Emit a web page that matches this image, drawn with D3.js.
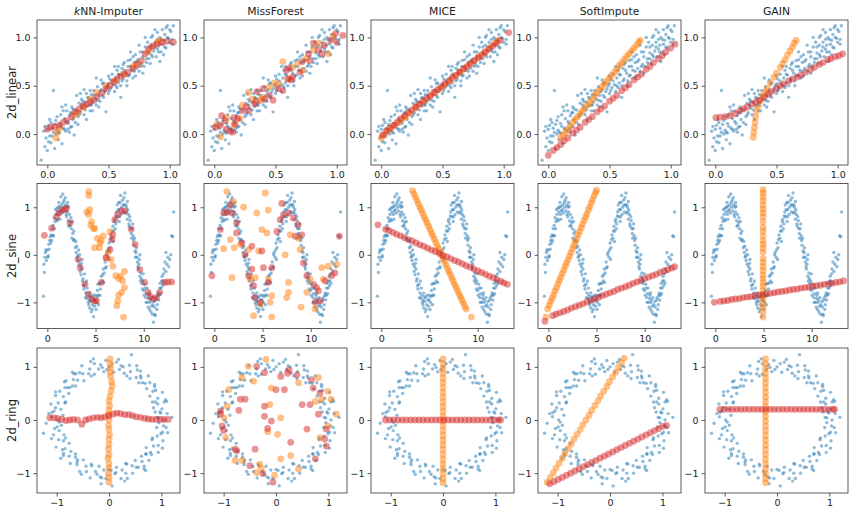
<!DOCTYPE html>
<html>
<head>
<meta charset="utf-8">
<script src="https://cdn.jsdelivr.net/npm/d3@7"></script>
<style>
body { margin: 0; background: #fff; }
text { font-family: "DejaVu Sans", sans-serif; fill: #222; }
</style>
</head>
<body>
<svg id="canvas" width="855" height="513"></svg>
<script>
const methods = ['kNN-Imputer', 'MissForest', 'MICE', 'SoftImpute', 'GAIN'];
const datasets = ['2d_linear', '2d_sine', '2d_ring'];

// ground truth points (blue), same in every column of a row
const linearTrue = [[-0.05,-0.27],[-0.03,0.03],[-0.02,-0.13],[0.0,0.05],[-0.01,-0.04],[0.01,0.09],[0.02,-0.02],[0.03,-0.09],[0.03,0.12],[0.05,0.02],[0.05,0.45],[0.06,-0.15],[0.07,0.14],[0.08,0.04],[0.09,-0.06],[0.1,0.11],[0.11,0.2],[0.12,-0.1],[0.13,0.06],[0.14,0.16],[0.15,0.03],[0.16,0.24],[0.17,0.11],[0.18,0.19],[0.19,0.07],[0.2,0.28],[0.21,0.15],[0.22,-0.01],[0.23,0.25],[0.24,0.4],[0.25,0.18],[0.26,0.32],[0.27,0.22],[0.28,0.36],[0.29,0.27],[0.3,0.2],[0.31,0.33],[0.32,0.42],[0.33,0.29],[0.34,0.37],[0.35,0.24],[0.36,0.41],[0.37,0.33],[0.38,0.45],[0.39,0.36],[0.4,0.3],[0.41,0.49],[0.42,0.4],[0.43,0.34],[0.44,0.46],[0.45,0.4],[0.46,0.53],[0.47,0.44],[0.48,0.23],[0.49,0.5],[0.5,0.42],[0.51,0.57],[0.52,0.48],[0.53,0.62],[0.54,0.51],[0.55,0.44],[0.56,0.58],[0.57,0.66],[0.58,0.53],[0.59,0.61],[0.6,0.5],[0.61,0.68],[0.62,0.57],[0.63,0.74],[0.64,0.63],[0.65,0.55],[0.66,0.7],[0.67,0.61],[0.68,0.77],[0.69,0.66],[0.7,0.58],[0.71,0.74],[0.72,0.82],[0.73,0.68],[0.74,0.77],[0.75,0.65],[0.76,0.85],[0.77,0.72],[0.78,0.8],[0.79,0.7],[0.8,0.9],[0.81,0.78],[0.82,0.95],[0.83,0.84],[0.84,0.73],[0.85,0.92],[0.86,1.02],[0.87,0.86],[0.88,0.95],[0.89,0.8],[0.9,1.05],[0.91,0.92],[0.92,1.0],[0.93,0.85],[0.94,1.08],[0.95,0.97],[0.96,1.03],[0.97,0.89],[0.98,1.12],[0.99,0.99],[1.0,0.95],[1.01,1.06],[1.02,0.93],[1.03,1.12],[0.97,1.1],[0.85,0.82],[0.75,0.92],[0.6,0.38],[0.4,0.58],[0.3,0.46],[0.15,0.3],[0.08,0.18],[0.02,0.15],[0.65,0.5],[0.55,0.7],[0.5,0.6],[0.45,0.52],[0.35,0.45],[0.25,0.1],[0.1,0.01],[0.9,0.88],[0.95,0.82],[0.8,1.0],[0.7,0.8],[0.58,0.7],[0.42,0.28],[0.32,0.15],[0.18,0.02],[0.04,-0.02],[0.88,1.08],[0.92,0.75],[0.78,0.63],[0.68,0.85],[0.2,0.08],[0.12,0.28],[0.27,0.42],[0.37,0.24],
  [0.01,-0.08],[0.04,0.06],[0.06,0.1],[0.09,0.02],[0.11,0.08],[0.14,0.05],[0.16,0.13],[0.19,0.22],[0.21,0.26],[0.23,0.12],[0.26,0.2],[0.28,0.3],[0.31,0.25],[0.33,0.38],[0.36,0.3],[0.38,0.4],[0.41,0.35],[0.43,0.44],[0.46,0.38],[0.48,0.47],[0.51,0.45],[0.53,0.55],[0.56,0.5],[0.58,0.62],[0.61,0.55],[0.63,0.66],[0.66,0.6],[0.68,0.7],[0.71,0.65],[0.73,0.75],[0.76,0.7],[0.78,0.85],[0.81,0.74],[0.83,0.9],[0.86,0.8],[0.88,0.9],[0.91,0.85],[0.93,0.98],[0.96,0.9],[0.98,1.0],[1.0,1.08],[1.02,0.98],[0.85,1.0],[0.9,0.98],[0.72,0.6],[0.62,0.72],[0.5,0.52],[0.35,0.3],[0.2,0.22],[0.07,0.0],[-0.02,0.08],[0.0,-0.17],[0.13,0.24],[0.44,0.56],[0.66,0.76],[0.94,0.93],[0.83,0.78],[0.57,0.48],[0.29,0.34],[0.17,0.05]];

const sineTrue = [[-0.4,-0.87],[-0.3,-0.37],[-0.25,-0.05],[-0.2,0.05],[-0.1,-0.12],[0.0,0.1],[0.1,-0.02],[0.15,0.22],[0.2,0.12],[0.3,0.38],[0.4,0.42],[0.45,0.3],[0.5,0.55],[0.6,0.62],[0.65,0.4],[0.7,0.78],[0.8,0.7],[0.85,0.95],[0.9,0.85],[1.0,0.98],[1.05,0.72],[1.1,0.9],[1.2,1.1],[1.25,0.85],[1.3,1.02],[1.4,1.22],[1.45,0.95],[1.5,1.05],[1.55,0.88],[1.6,1.28],[1.7,1.0],[1.75,1.15],[1.8,0.92],[1.9,1.05],[2.0,0.8],[2.05,1.0],[2.1,0.9],[2.2,0.72],[2.3,0.85],[2.35,0.62],[2.4,0.68],[2.5,0.55],[2.55,0.35],[2.6,0.7],[2.7,0.3],[2.8,0.32],[2.9,0.15],[3.0,0.05],[3.05,0.18],[3.1,-0.05],[3.2,-0.12],[3.3,-0.2],[3.35,0.0],[3.4,-0.35],[3.5,-0.42],[3.6,-0.3],[3.65,-0.55],[3.7,-0.5],[3.8,-0.72],[3.9,-0.62],[4.0,-0.8],[4.05,-0.55],[4.1,-0.92],[4.2,-0.85],[4.3,-1.05],[4.35,-0.95],[4.4,-1.12],[4.5,-0.98],[4.55,-1.2],[4.6,-0.9],[4.7,-1.05],[4.8,-1.3],[4.85,-0.95],[4.9,-1.08],[5.0,-0.85],[5.1,-1.0],[5.2,-0.75],[5.3,-0.85],[5.4,-0.6],[5.5,-0.72],[5.6,-0.45],[5.7,-0.55],[5.8,-0.3],[5.9,-0.38],[6.0,-0.15],[6.1,-0.25],[6.2,0.05],[6.3,-0.05],[6.4,0.25],[6.5,0.15],[6.6,0.42],[6.7,0.35],[6.8,0.6],[6.9,0.5],[7.0,0.75],[7.1,0.65],[7.2,0.9],[7.25,1.05],[7.3,0.8],[7.4,1.1],[7.5,0.95],[7.6,1.25],[7.7,1.0],[7.8,1.15],[7.9,0.9],[8.0,1.05],[8.05,1.3],[8.1,0.88],[8.2,1.0],[8.3,0.75],[8.4,0.85],[8.5,0.6],[8.6,0.72],[8.7,0.45],[8.8,0.55],[8.9,0.4],[9.0,0.2],[9.1,0.08],[9.2,0.05],[9.3,-0.05],[9.4,-0.25],[9.5,-0.2],[9.6,-0.45],[9.7,-0.38],[9.8,-0.6],[9.9,-0.55],[10.0,-0.75],[10.1,-0.62],[10.2,-0.9],[10.3,-0.82],[10.4,-1.0],[10.5,-0.92],[10.6,-1.15],[10.7,-0.95],[10.8,-1.08],[10.9,-1.25],[11.0,-1.42],[11.05,-0.98],[11.1,-1.1],[11.2,-1.28],[11.3,-0.9],[11.4,-1.05],[11.5,-0.8],[11.6,-0.85],[11.7,-0.6],[11.8,-0.7],[11.9,-0.45],[12.0,-0.55],[12.1,-0.3],[12.2,-0.15],[12.4,-0.2],[12.5,-0.05],[12.6,-0.25],[12.8,0.0],[12.9,0.4],[13.0,0.38],[13.1,0.9],[1.3,0.75],[7.5,0.8],[4.4,-0.8],[10.6,-0.8],[5.3,-1.05],[2.1,1.1],[8.3,1.12],[3.6,-0.1],[9.6,0.0],
  [0.05,-0.05],[0.35,0.25],[0.55,0.4],[0.75,0.55],[0.95,0.75],[1.15,1.0],[1.35,0.92],[1.65,1.1],[1.85,1.2],[1.95,0.85],[2.15,1.02],[2.25,0.6],[2.45,0.78],[2.65,0.45],[2.75,0.5],[2.95,0.28],[3.15,-0.02],[3.25,0.1],[3.45,-0.25],[3.55,-0.18],[3.75,-0.65],[3.85,-0.4],[3.95,-0.9],[4.15,-0.7],[4.25,-1.0],[4.45,-0.88],[4.65,-1.15],[4.75,-0.85],[4.95,-0.95],[5.05,-1.15],[5.15,-0.88],[5.25,-0.62],[5.45,-0.85],[5.55,-0.6],[5.75,-0.42],[5.85,-0.58],[6.05,-0.28],[6.15,0.0],[6.35,0.1],[6.45,-0.1],[6.55,0.32],[6.75,0.5],[6.85,0.28],[6.95,0.7],[7.05,0.55],[7.15,0.82],[7.35,0.95],[7.45,0.7],[7.55,1.1],[7.65,0.85],[7.85,1.05],[7.95,1.2],[8.15,1.05],[8.25,0.9],[8.35,0.95],[8.45,0.65],[8.55,0.8],[8.65,0.55],[8.75,0.35],[8.85,0.65],[8.95,0.3],[9.05,0.35],[9.15,-0.05],[9.25,0.15],[9.35,-0.15],[9.45,-0.3],[9.55,-0.1],[9.65,-0.55],[9.75,-0.5],[9.85,-0.72],[9.95,-0.4],[10.05,-0.85],[10.15,-0.7],[10.25,-1.0],[10.35,-0.7],[10.45,-1.1],[10.55,-0.85],[10.65,-1.0],[10.75,-1.2],[10.85,-0.9],[10.95,-1.05],[11.15,-1.25],[11.25,-0.95],[11.35,-1.15],[11.45,-0.85],[11.55,-0.95],[11.65,-0.7],[11.75,-0.82],[11.85,-0.55],[11.95,-0.65],[12.05,-0.4],[12.3,-0.35],[12.7,-0.1],[12.3,0.05],[-0.35,-0.2],[-0.15,0.1],[0.25,0.3],[12.1,-0.6]];

const ringTrue = [[1.05,0.0],[0.92,0.05],[1.11,0.12],[0.97,0.15],[1.01,0.21],[0.85,0.23],[1.05,0.34],[0.89,0.34],[0.93,0.41],[1.02,0.52],[0.78,0.45],[0.84,0.54],[0.87,0.63],[0.72,0.59],[0.78,0.7],[0.69,0.69],[0.75,0.83],[0.57,0.7],[0.6,0.83],[0.52,0.8],[0.54,0.94],[0.4,0.78],[0.41,0.91],[0.39,1.03],[0.29,0.88],[0.27,1.0],[0.2,0.95],[0.18,1.14],[0.09,0.9],[0.06,1.06],
  [0.0,1.0],[-0.06,1.12],[-0.1,0.91],[-0.16,1.04],[-0.2,0.96],[-0.28,1.06],[-0.28,0.86],[-0.37,0.96],[-0.39,0.87],[-0.52,1.02],[-0.5,0.87],[-0.48,0.74],[-0.63,0.87],[-0.6,0.75],[-0.68,0.76],[-0.64,0.64],[-0.82,0.74],[-0.75,0.61],[-0.84,0.61],[-0.77,0.5],[-0.94,0.54],[-0.87,0.44],[-1.02,0.46],[-0.84,0.32],[-0.97,0.32],[-1.11,0.3],[-0.92,0.2],[-1.05,0.17],[-0.88,0.09],[-1.1,0.06],
  [-0.98,0.0],[-1.2,-0.06],[-0.91,-0.1],[-1.04,-0.16],[-0.95,-0.2],[-1.06,-0.28],[-0.86,-0.28],[-0.96,-0.37],[-0.87,-0.39],[-1.01,-0.51],[-0.76,-0.44],[-0.84,-0.54],[-0.87,-0.63],[-0.73,-0.59],[-0.76,-0.68],[-0.64,-0.64],[-0.74,-0.82],[-0.6,-0.75],[-0.61,-0.84],[-0.49,-0.75],[-0.56,-0.97],[-0.44,-0.87],[-0.43,-0.97],[-0.33,-0.86],[-0.36,-1.09],[-0.26,-0.97],[-0.19,-0.87],[-0.17,-1.07],[-0.1,-0.94],[-0.06,-1.1],
  [0.0,-0.93],[0.06,-1.24],[0.11,-1.01],[0.14,-0.89],[0.23,-1.1],[0.25,-0.94],[0.32,-1.0],[0.32,-0.82],[0.45,-1.0],[0.44,-0.86],[0.52,-0.89],[0.5,-0.76],[0.67,-0.92],[0.63,-0.78],[0.62,-0.68],[0.76,-0.76],[0.71,-0.64],[0.81,-0.65],[0.71,-0.52],[0.94,-0.61],[0.85,-0.49],[0.94,-0.48],[0.82,-0.37],[1.03,-0.39],[0.92,-0.3],[0.99,-0.26],[1.12,-0.24],[0.91,-0.14],[1.04,-0.11],[0.95,-0.05],
  [1.2,0.05],[0.43,1.23],[-1.25,-0.25],[0.88,0.15],[-0.3,1.15],[0.3,-1.15],[-0.7,0.9],[0.7,-0.95],[-0.92,-0.72],[0.6,0.92],[-0.15,-1.2],[0.93,0.3],[-0.85,0.72],[1.08,0.38],[-1.15,0.12],
  [0.99,0.13],[0.83,0.34],[0.87,0.67],[0.61,0.79],[0.34,0.83],[0.14,1.09],[-0.13,0.99],[-0.34,0.83],[-0.67,0.87],[-0.79,0.61],[-0.83,0.34],[-1.09,0.14],[-0.99,-0.13],[-0.83,-0.34],[-0.87,-0.67],[-0.61,-0.79],[-0.34,-0.83],[-0.14,-1.09],[0.13,-0.99],[0.34,-0.83],[0.67,-0.87],[0.79,-0.61],[0.83,-0.34],[1.09,-0.14],
  [0.95,0.04],[1.1,0.35],[0.89,0.56],[0.64,0.7],[0.53,1.02],[0.23,1.02],[-0.04,0.95],[-0.35,1.1],[-0.56,0.89],[-0.7,0.64],[-1.02,0.53],[-1.02,0.23],[-0.95,-0.04],[-1.1,-0.35],[-0.89,-0.56],[-0.64,-0.7],[-0.53,-1.02],[-0.23,-1.02],[0.04,-0.95],[0.35,-1.1],[0.56,-0.89],[0.7,-0.64],[1.02,-0.53],[1.02,-0.23]];

// imputed points: orange = imputed first coordinate, red = imputed second coordinate
const knnLinearOrange = [[0.07,-0.04],[0.08,0.02],[0.1,0.06],[0.22,0.2],[0.25,0.22],[0.3,0.28],[0.35,0.36],[0.4,0.43],[0.48,0.5],[0.55,0.55],[0.62,0.62],[0.7,0.7],[0.75,0.72],[0.82,0.85],[0.86,0.9],[0.9,0.95],[0.92,0.97]];
const knnLinearRed = [[0.0,0.05],[0.03,0.07],[0.06,0.08],[0.1,0.09],[0.13,0.12],[0.16,0.14],[0.2,0.18],[0.23,0.23],[0.26,0.26],[0.29,0.29],[0.32,0.31],[0.35,0.33],[0.38,0.35],[0.41,0.39],[0.45,0.43],[0.48,0.47],[0.51,0.5],[0.54,0.54],[0.57,0.57],[0.6,0.6],[0.63,0.62],[0.66,0.64],[0.7,0.68],[0.73,0.72],[0.77,0.76],[0.8,0.83],[0.83,0.88],[0.86,0.91],[0.9,0.93],[0.94,0.95],[0.98,0.96],[1.03,0.95]];
const mfLinearOrange = [[0.05,-0.03],[0.02,0.1],[0.1,0.17],[0.21,0.16],[0.31,0.36],[0.38,0.35],[0.49,0.53],[0.56,0.75],[0.64,0.69],[0.68,0.73],[0.75,0.78],[0.81,0.87],[0.93,0.83],[0.97,1.01],[0.23,0.3],[0.45,0.49],[0.61,0.57],[0.85,0.94],[0.16,0.1],[0.39,0.38],[0.72,0.66],[0.28,0.43],[0.53,0.52]];
const mfLinearRed = [[0.01,0.07],[0.05,0.09],[0.09,0.14],[0.15,0.02],[0.1,0.05],[0.17,0.1],[0.19,0.16],[0.26,0.28],[0.28,0.24],[0.33,0.31],[0.35,0.44],[0.4,0.47],[0.41,0.36],[0.45,0.4],[0.48,0.35],[0.52,0.47],[0.56,0.45],[0.6,0.57],[0.63,0.56],[0.61,0.68],[0.64,0.59],[0.7,0.64],[0.72,0.75],[0.78,0.76],[0.81,0.94],[0.85,0.87],[0.88,0.83],[0.9,0.92],[0.95,0.97],[0.99,1.04],[1.05,1.02],[1.0,0.95],[0.77,0.83],[0.59,0.66],[0.34,0.34],[0.23,0.24],[0.16,0.17],[0.06,0.19],[0.13,0.03]];
const miceLinearOrange = [[0.0,-0.04],[0.02,-0.01],[0.05,0.03],[0.08,0.06],[0.11,0.09],[0.14,0.12],[0.17,0.15],[0.2,0.18],[0.24,0.22],[0.28,0.27],[0.32,0.31],[0.36,0.35],[0.4,0.39],[0.44,0.43],[0.48,0.47],[0.52,0.51],[0.56,0.55],[0.6,0.6],[0.64,0.64],[0.68,0.68],[0.72,0.72],[0.76,0.76],[0.8,0.8],[0.84,0.84],[0.88,0.89],[0.92,0.93],[0.95,0.97]];
const miceLinearRed = [[0.01,-0.01],[0.04,0.03],[0.07,0.06],[0.1,0.09],[0.13,0.12],[0.16,0.16],[0.19,0.19],[0.22,0.22],[0.25,0.25],[0.28,0.28],[0.31,0.31],[0.34,0.34],[0.37,0.37],[0.4,0.4],[0.43,0.43],[0.46,0.46],[0.49,0.49],[0.52,0.52],[0.55,0.55],[0.58,0.58],[0.61,0.61],[0.64,0.64],[0.67,0.67],[0.7,0.7],[0.73,0.73],[0.76,0.76],[0.79,0.79],[0.82,0.82],[0.85,0.85],[0.88,0.88],[0.91,0.91],[0.94,0.94],[0.97,0.97],[1.04,1.05]];
const siLinearOrange = [[0.1,-0.04],[0.12,-0.01],[0.14,0.02],[0.16,0.05],[0.18,0.08],[0.2,0.12],[0.22,0.15],[0.24,0.18],[0.26,0.21],[0.28,0.24],[0.3,0.27],[0.32,0.3],[0.34,0.33],[0.36,0.36],[0.38,0.4],[0.4,0.43],[0.42,0.46],[0.44,0.49],[0.46,0.52],[0.48,0.55],[0.5,0.58],[0.52,0.61],[0.54,0.64],[0.56,0.67],[0.58,0.71],[0.6,0.74],[0.62,0.77],[0.64,0.8],[0.66,0.83],[0.68,0.86],[0.7,0.89],[0.72,0.92],[0.74,0.95],[0.75,0.97]];
const siLinearRed = [[0.0,-0.22],[0.04,-0.17],[0.07,-0.14],[0.1,-0.11],[0.13,-0.07],[0.16,-0.04],[0.2,0.01],[0.23,0.04],[0.26,0.07],[0.3,0.12],[0.33,0.15],[0.36,0.18],[0.4,0.23],[0.43,0.26],[0.46,0.29],[0.5,0.34],[0.53,0.37],[0.56,0.4],[0.6,0.45],[0.63,0.48],[0.66,0.51],[0.7,0.56],[0.73,0.59],[0.76,0.62],[0.8,0.67],[0.83,0.7],[0.86,0.74],[0.9,0.78],[0.93,0.81],[0.96,0.85],[1.0,0.89],[1.035,0.93]];
const gainLinearOrange = [[0.31,-0.035],[0.315,0.02],[0.32,0.07],[0.325,0.12],[0.33,0.18],[0.337,0.24],[0.35,0.29],[0.37,0.35],[0.39,0.4],[0.41,0.44],[0.425,0.47],[0.45,0.53],[0.48,0.59],[0.5,0.63],[0.53,0.69],[0.55,0.73],[0.57,0.77],[0.59,0.82],[0.61,0.86],[0.63,0.9],[0.645,0.94],[0.66,0.97]];
const gainLinearRed = [[0.005,0.17],[0.04,0.175],[0.08,0.18],[0.12,0.19],[0.16,0.21],[0.2,0.24],[0.23,0.26],[0.26,0.28],[0.3,0.31],[0.33,0.33],[0.36,0.35],[0.4,0.38],[0.43,0.41],[0.46,0.44],[0.5,0.47],[0.53,0.5],[0.56,0.52],[0.6,0.55],[0.63,0.57],[0.67,0.59],[0.7,0.61],[0.74,0.64],[0.78,0.67],[0.81,0.69],[0.85,0.72],[0.88,0.74],[0.92,0.77],[0.945,0.78],[0.98,0.8],[1.01,0.81],[1.04,0.83]];

const knnSineOrange = [[4.3,1.33],[4.3,1.25],[4.1,0.9],[4.3,0.85],[4.6,0.7],[4.8,0.55],[4.9,0.56],[6.5,0.48],[5.45,0.25],[4.9,0.15],[5.4,0.15],[6.1,-0.06],[6.8,-0.24],[7.1,-0.44],[7.6,-0.45],[8.0,-0.35],[8.0,-0.69],[7.7,-0.79],[7.3,-0.97],[7.2,-1.07],[7.9,-1.31],[5.2,0.35],[5.8,0.4],[6.3,0.05],[4.5,0.62],[5.6,0.3],[6.6,-0.1],[7.4,-0.5],[7.8,-0.55],[7.4,-0.85],[4.4,0.95]];
const knnSineRed = [[-0.3,0.41],[0.45,0.56],[0.97,0.8],[1.2,0.88],[1.5,0.94],[1.8,0.95],[2.0,0.98],[2.35,0.67],[3.2,-0.1],[3.4,-0.27],[3.9,-0.62],[4.25,-0.83],[4.6,-0.93],[4.9,-0.97],[5.1,-0.97],[5.6,-0.58],[6.1,-0.06],[6.5,0.11],[6.7,0.32],[6.8,0.42],[7.0,0.74],[7.3,0.85],[7.7,0.93],[8.0,0.92],[8.7,0.54],[9.1,0.22],[9.6,-0.31],[10.1,-0.58],[10.45,-0.79],[10.7,-0.88],[11.0,-0.93],[11.3,-0.9],[11.65,-0.79],[12.2,-0.58],[12.5,-0.57],[12.9,-0.57]];
const mfSineOrange = [[1.3,1.33],[2.0,1.12],[3.03,1.0],[4.4,0.88],[5.28,1.3],[5.6,0.94],[4.93,0.53],[5.45,0.46],[4.6,0.08],[3.55,0.11],[1.66,0.32],[0.97,0.13],[2.07,0.15],[1.83,-0.48],[4.24,-0.48],[5.6,-0.51],[5.96,-0.86],[5.8,-1.0],[5.96,-1.31],[7.7,-0.58],[7.7,-0.79],[7.5,-0.9],[9.0,-1.1],[8.72,0.35],[8.9,0.11],[9.6,-0.79],[10.45,-1.14],[11.14,-0.27],[11.3,-0.51],[11.8,-0.24],[12.7,-0.2],[9.93,-0.51],[4.07,-1.28],[4.76,-1.03],[3.72,-0.51],[7.86,0.42],[2.7,0.22],[7.34,0.0]];
const mfSineRed = [[-0.25,-0.44],[0.62,0.53],[0.97,0.88],[1.3,0.9],[1.66,1.05],[1.83,0.88],[2.3,0.67],[2.3,0.46],[2.86,0.25],[3.2,0.0],[3.9,0.18],[3.9,-0.3],[3.55,-0.44],[4.07,-0.65],[4.2,-0.9],[4.76,-1.0],[5.1,-0.27],[5.6,-0.58],[4.93,0.08],[5.96,-0.27],[6.5,0.49],[6.83,0.74],[7.0,1.08],[7.17,0.84],[7.7,0.88],[8.2,0.77],[8.7,0.63],[9.07,0.42],[8.4,0.39],[9.24,-0.17],[9.6,-0.44],[10.3,-0.62],[10.6,-0.69],[10.8,-0.76],[10.97,-0.97],[10.45,-1.0],[11.5,-0.55],[12.17,-0.44],[12.5,-0.38],[12.97,0.39]];
const miceSineOrange = [[3.24,1.35],[3.4,1.28],[3.55,1.21],[3.7,1.14],[3.85,1.07],[4.0,1.0],[4.15,0.94],[4.3,0.87],[4.45,0.8],[4.6,0.73],[4.75,0.67],[4.9,0.6],[5.05,0.53],[5.2,0.46],[5.35,0.4],[5.5,0.33],[5.65,0.26],[5.8,0.19],[5.95,0.13],[6.1,0.06],[6.25,-0.01],[6.4,-0.08],[6.55,-0.14],[6.7,-0.21],[6.85,-0.28],[7.0,-0.35],[7.15,-0.41],[7.3,-0.48],[7.45,-0.55],[7.6,-0.62],[7.75,-0.68],[7.9,-0.75],[8.05,-0.82],[8.2,-0.88],[8.35,-0.95],[8.5,-1.01],[8.65,-1.08],[8.8,-1.14],[9.34,-1.31]];
const miceSineRed = [[-0.35,0.63],[0.45,0.54],[0.8,0.51],[1.2,0.47],[1.6,0.43],[2.0,0.4],[2.4,0.36],[2.8,0.32],[3.2,0.29],[3.6,0.25],[4.0,0.21],[4.4,0.18],[4.8,0.14],[5.2,0.1],[5.6,0.07],[6.0,0.03],[6.4,-0.01],[6.8,-0.04],[7.2,-0.08],[7.6,-0.12],[8.0,-0.15],[8.4,-0.19],[8.8,-0.23],[9.2,-0.26],[9.6,-0.3],[10.0,-0.34],[10.4,-0.37],[10.8,-0.41],[11.2,-0.45],[11.6,-0.48],[12.0,-0.52],[12.4,-0.56],[12.7,-0.59],[13.07,-0.62]];
const siSineOrange = [[-0.25,-1.31],[-0.07,-1.14],[0.1,-1.06],[0.25,-0.98],[0.4,-0.91],[0.55,-0.84],[0.7,-0.76],[0.85,-0.69],[1.0,-0.61],[1.15,-0.54],[1.3,-0.47],[1.45,-0.39],[1.6,-0.32],[1.75,-0.24],[1.9,-0.17],[2.05,-0.1],[2.2,-0.02],[2.35,0.05],[2.5,0.13],[2.65,0.2],[2.8,0.27],[2.95,0.35],[3.1,0.42],[3.25,0.49],[3.4,0.57],[3.55,0.64],[3.7,0.72],[3.85,0.79],[4.0,0.86],[4.15,0.94],[4.3,1.01],[4.45,1.09],[4.6,1.16],[4.75,1.24],[4.9,1.31],[5.0,1.36]];
const siSineRed = [[-0.35,-1.4],[0.45,-1.28],[0.8,-1.25],[1.2,-1.22],[1.6,-1.19],[2.0,-1.16],[2.4,-1.12],[2.8,-1.09],[3.2,-1.06],[3.6,-1.03],[4.0,-0.99],[4.4,-0.96],[4.8,-0.93],[5.2,-0.9],[5.6,-0.86],[6.0,-0.83],[6.4,-0.8],[6.8,-0.77],[7.2,-0.73],[7.6,-0.7],[8.0,-0.67],[8.4,-0.64],[8.8,-0.6],[9.2,-0.57],[9.6,-0.54],[10.0,-0.5],[10.4,-0.47],[10.8,-0.44],[11.2,-0.41],[11.6,-0.37],[12.0,-0.34],[12.4,-0.31],[12.8,-0.28],[13.1,-0.25]];
const gainSineOrange = [[4.95,-1.31],[4.95,-1.2],[4.95,-1.1],[4.95,-1.02],[4.95,-0.92],[4.95,-0.85],[4.95,-0.75],[4.95,-0.66],[4.95,-0.58],[4.95,-0.5],[4.95,-0.42],[4.95,-0.33],[4.95,-0.25],[4.95,-0.16],[4.95,-0.08],[4.95,0.05],[4.95,0.14],[4.95,0.22],[4.95,0.3],[4.95,0.4],[4.95,0.5],[4.95,0.58],[4.95,0.7],[4.95,0.8],[4.95,0.88],[4.95,0.96],[4.95,1.05],[4.95,1.14],[4.95,1.22],[4.95,1.3],[4.95,1.37]];
const gainSineRed = [[-0.1,-1.0],[0.5,-0.98],[0.9,-0.97],[1.3,-0.96],[1.7,-0.94],[2.1,-0.93],[2.5,-0.92],[2.9,-0.9],[3.3,-0.89],[3.7,-0.88],[4.1,-0.86],[4.5,-0.85],[4.9,-0.84],[5.3,-0.82],[5.7,-0.81],[6.1,-0.8],[6.5,-0.78],[6.9,-0.77],[7.3,-0.76],[7.7,-0.74],[8.1,-0.73],[8.5,-0.72],[8.9,-0.7],[9.3,-0.69],[9.7,-0.68],[10.1,-0.66],[10.5,-0.65],[10.9,-0.64],[11.3,-0.62],[11.7,-0.61],[12.1,-0.6],[12.5,-0.58],[12.9,-0.57],[13.3,-0.55]];

const knnRingOrange = [[0.02,1.15],[0.02,1.06],[0.03,0.98],[0.02,0.9],[0.03,0.82],[0.05,0.72],[0.06,0.64],[0.04,0.55],[0.02,0.45],[0.0,0.36],[0.01,0.27],[0.0,0.18],[-0.01,0.1],[0.0,0.0],[-0.01,-0.1],[0.0,-0.18],[0.01,-0.28],[0.0,-0.36],[0.0,-0.46],[-0.01,-0.55],[0.0,-0.65],[-0.02,-0.72],[0.0,-0.82],[0.0,-0.9],[-0.01,-1.0],[0.0,-1.08],[0.0,-1.17]];
const knnRingRed = [[-1.13,0.04],[-1.05,0.04],[-0.98,0.03],[-0.9,0.01],[-0.82,-0.01],[-0.75,0.0],[-0.68,0.01],[-0.6,0.0],[-0.52,-0.08],[-0.45,0.0],[-0.38,0.02],[-0.3,0.04],[-0.22,0.05],[-0.15,0.04],[-0.08,0.06],[0.0,0.08],[0.08,0.11],[0.15,0.13],[0.22,0.12],[0.3,0.1],[0.38,0.1],[0.45,0.08],[0.52,0.06],[0.6,0.05],[0.68,0.03],[0.75,0.02],[0.82,0.01],[0.9,0.01],[0.98,0.01],[1.05,0.01],[1.13,0.01]];
const mfRingOrange = [[-0.53,1.01],[-0.19,1.14],[-0.65,0.8],[-0.9,0.57],[-0.93,0.26],[-0.99,0.04],[-0.96,-0.33],[-0.78,-0.76],[-0.37,-0.99],[-0.03,-1.04],[-0.28,-0.91],[0.09,-0.73],[0.28,-0.67],[0.43,-0.92],[0.84,-0.33],[0.99,-0.11],[1.15,0.11],[1.05,0.39],[0.99,0.54],[0.81,0.8],[0.43,0.7],[-0.12,0.29],[0.09,0.04],[0.03,-0.27],[-0.16,-0.22],[-0.43,0.73],[-0.09,0.6],[0.75,0.35],[0.87,0.39],[-0.65,-0.76],[-0.31,-0.83]];
const mfRingRed = [[-1.06,0.17],[-1.03,-0.11],[-1.0,-0.2],[-0.78,-0.55],[-0.75,-0.58],[-0.59,0.39],[-0.68,0.39],[-0.71,0.18],[-0.5,-0.86],[-0.4,-0.55],[-0.25,-1.01],[-0.06,-1.17],[-0.37,1.01],[-0.22,0.89],[0.09,0.82],[0.25,0.94],[0.22,0.88],[0.4,0.85],[0.68,0.76],[0.71,0.6],[0.84,0.51],[0.81,0.11],[0.96,-0.17],[0.93,-0.36],[0.96,-0.49],[0.75,-0.73],[0.0,0.57],[0.16,0.57],[-0.22,0.26],[-0.22,0.07],[-0.09,-0.02],[-0.16,-0.16],[0.28,-0.42],[0.5,0.29],[0.59,-0.17],[0.65,0.29],[-1.06,0.11]];
const miceRingOrange = [[0.0,1.15],[0.0,1.06],[0.0,0.97],[0.0,0.88],[0.0,0.79],[0.0,0.7],[0.0,0.61],[0.0,0.52],[0.0,0.43],[0.0,0.34],[0.0,0.25],[0.0,0.16],[0.0,0.07],[0.0,-0.02],[0.0,-0.11],[0.0,-0.2],[0.0,-0.29],[0.0,-0.38],[0.0,-0.47],[0.0,-0.56],[0.0,-0.65],[0.0,-0.74],[0.0,-0.83],[0.0,-0.92],[0.0,-1.01],[0.0,-1.1],[0.0,-1.18]];
const miceRingRed = [[-1.1,0.0],[-1.02,0.0],[-0.94,0.0],[-0.86,0.0],[-0.78,0.0],[-0.7,0.0],[-0.62,0.0],[-0.54,0.0],[-0.46,0.0],[-0.38,0.0],[-0.3,0.0],[-0.22,0.0],[-0.14,0.0],[-0.06,0.0],[0.02,0.0],[0.1,0.0],[0.18,0.0],[0.26,0.0],[0.34,0.0],[0.42,0.0],[0.5,0.0],[0.58,0.0],[0.66,0.0],[0.74,0.0],[0.82,0.0],[0.9,0.0],[0.98,0.0],[1.06,0.0],[1.1,0.0]];
const siRingOrange = [[-1.2,-1.17],[-1.14,-1.08],[-1.08,-0.99],[-1.03,-0.9],[-0.97,-0.81],[-0.91,-0.72],[-0.86,-0.63],[-0.8,-0.54],[-0.74,-0.45],[-0.69,-0.36],[-0.63,-0.27],[-0.57,-0.18],[-0.52,-0.09],[-0.46,0.0],[-0.4,0.09],[-0.35,0.18],[-0.29,0.27],[-0.23,0.36],[-0.18,0.45],[-0.12,0.54],[-0.06,0.63],[-0.01,0.72],[0.05,0.81],[0.11,0.9],[0.16,0.99],[0.22,1.08],[0.27,1.16]];
const siRingRed = [[-1.15,-1.2],[-1.07,-1.16],[-0.99,-1.12],[-0.91,-1.08],[-0.83,-1.04],[-0.75,-1.0],[-0.67,-0.96],[-0.59,-0.92],[-0.51,-0.88],[-0.43,-0.84],[-0.35,-0.8],[-0.27,-0.76],[-0.19,-0.72],[-0.11,-0.68],[-0.03,-0.64],[0.05,-0.6],[0.13,-0.56],[0.21,-0.52],[0.29,-0.48],[0.37,-0.44],[0.45,-0.4],[0.53,-0.36],[0.61,-0.32],[0.69,-0.28],[0.77,-0.24],[0.85,-0.2],[0.93,-0.16],[1.01,-0.12],[1.08,-0.1]];
const gainRingOrange = [[-0.22,1.15],[-0.22,1.06],[-0.22,0.97],[-0.22,0.88],[-0.22,0.79],[-0.22,0.7],[-0.22,0.61],[-0.22,0.52],[-0.22,0.43],[-0.22,0.34],[-0.22,0.25],[-0.22,0.16],[-0.22,0.07],[-0.22,-0.02],[-0.22,-0.11],[-0.22,-0.2],[-0.22,-0.29],[-0.22,-0.38],[-0.22,-0.47],[-0.22,-0.56],[-0.22,-0.65],[-0.22,-0.74],[-0.22,-0.83],[-0.22,-0.92],[-0.22,-1.01],[-0.22,-1.1],[-0.22,-1.18]];
const gainRingRed = [[-1.09,0.2],[-1.01,0.2],[-0.93,0.2],[-0.85,0.2],[-0.77,0.2],[-0.69,0.2],[-0.61,0.2],[-0.53,0.2],[-0.45,0.2],[-0.37,0.2],[-0.29,0.2],[-0.21,0.2],[-0.13,0.2],[-0.05,0.2],[0.03,0.2],[0.11,0.2],[0.19,0.2],[0.27,0.2],[0.35,0.2],[0.43,0.2],[0.51,0.2],[0.59,0.2],[0.67,0.2],[0.75,0.2],[0.83,0.2],[0.91,0.2],[0.99,0.2],[1.07,0.2],[1.1,0.2]];

// axis ticks per row
const linearTicks = [0, 0.5, 1];
const sineXTicks = [0, 5, 10];
const sineYTicks = [-1, 0, 1];
const ringTicks = [-1, 0, 1];

const rows = [
    {name: datasets[0], truth: linearTrue, xDom: [-0.084, 1.084], yDom: [-0.32, 1.18], xTicks: linearTicks, yTicks: linearTicks, fmt: d3.format('.1f'),
     imputed: [[knnLinearOrange, knnLinearRed], [mfLinearOrange, mfLinearRed], [miceLinearOrange, miceLinearRed], [siLinearOrange, siLinearRed], [gainLinearOrange, gainLinearRed]]},
    {name: datasets[1], truth: sineTrue, xDom: [-1.07, 13.76], yDom: [-1.55, 1.5], xTicks: sineXTicks, yTicks: sineYTicks, fmt: d3.format('d'),
     imputed: [[knnSineOrange, knnSineRed], [mfSineOrange, mfSineRed], [miceSineOrange, miceSineRed], [siSineOrange, siSineRed], [gainSineOrange, gainSineRed]]},
    {name: datasets[2], truth: ringTrue, xDom: [-1.375, 1.355], yDom: [-1.374, 1.355], xTicks: ringTicks, yTicks: ringTicks, fmt: d3.format('d'),
     imputed: [[knnRingOrange, knnRingRed], [mfRingOrange, mfRingRed], [miceRingOrange, miceRingRed], [siRingOrange, siRingRed], [gainRingOrange, gainRingRed]]}
];

const colLeft = [37, 204, 371, 538, 705];
const rowTop = [20, 183.5, 348];
const panelW = 143;
const panelH = 145;

const blue = '#1f77b4', orange = '#ff7f0e', red = '#d62728';

let canvas = d3.select('#canvas');

let drawPanel = (row, r, c) => {
    let g = canvas.append('g').attr('transform', `translate(${colLeft[c]},${rowTop[r]})`);
    let x = d3.scaleLinear().domain(row.xDom).range([0, panelW]);
    let y = d3.scaleLinear().domain(row.yDom).range([panelH, 0]);

    let xAxis = g.append('g').attr('transform', `translate(0,${panelH})`)
        .call(d3.axisBottom(x).tickValues(row.xTicks).tickFormat(row.fmt).tickSize(3.5).tickPadding(3));
    let yAxis = g.append('g')
        .call(d3.axisLeft(y).tickValues(row.yTicks).tickFormat(row.fmt).tickSize(3.5).tickPadding(3));
    [xAxis, yAxis].forEach(a => {
        a.select('.domain').remove();
        a.selectAll('line').attr('stroke', '#333').attr('stroke-width', 0.8);
        a.selectAll('text').attr('font-size', 9.5).attr('fill', '#222').style('font-family', '"DejaVu Sans", sans-serif');
    });

    let clip = `clip-${r}-${c}`;
    g.append('clipPath').attr('id', clip).append('rect').attr('width', panelW).attr('height', panelH);
    let plot = g.append('g').attr('clip-path', `url(#${clip})`);

    plot.selectAll('circle.truth')
        .data(row.truth)
        .enter()
        .append('circle')
        .attr('class', 'truth')
        .attr('cx', d => x(d[0]))
        .attr('cy', d => y(d[1]))
        .attr('r', 1.7)
        .attr('fill', blue)
        .attr('fill-opacity', 0.5);

    let [orangePts, redPts] = row.imputed[c];
    plot.selectAll('circle.orange')
        .data(orangePts)
        .enter()
        .append('circle')
        .attr('class', 'orange')
        .attr('cx', d => x(d[0]))
        .attr('cy', d => y(d[1]))
        .attr('r', 3.4)
        .attr('fill', orange)
        .attr('fill-opacity', 0.5);
    plot.selectAll('circle.red')
        .data(redPts)
        .enter()
        .append('circle')
        .attr('class', 'red')
        .attr('cx', d => x(d[0]))
        .attr('cy', d => y(d[1]))
        .attr('r', 3.4)
        .attr('fill', red)
        .attr('fill-opacity', 0.5);

    g.append('rect')
        .attr('width', panelW)
        .attr('height', panelH)
        .attr('fill', 'none')
        .attr('stroke', '#333')
        .attr('stroke-width', 0.8);
};

rows.forEach((row, r) => {
    methods.forEach((m, c) => drawPanel(row, r, c));
    canvas.append('text')
        .attr('transform', `translate(16,${rowTop[r] + panelH / 2}) rotate(-90)`)
        .attr('text-anchor', 'middle')
        .attr('font-size', 11.5)
        .text(row.name);
});

methods.forEach((m, c) => {
    let t = canvas.append('text')
        .attr('x', colLeft[c] + panelW / 2)
        .attr('y', 14.5)
        .attr('text-anchor', 'middle')
        .attr('font-size', 10.8);
    if (m.startsWith('kNN')) {
        t.append('tspan').attr('font-style', 'italic').text('k');
        t.append('tspan').text(m.slice(1));
    } else {
        t.text(m);
    }
});
</script>
</body>
</html>
